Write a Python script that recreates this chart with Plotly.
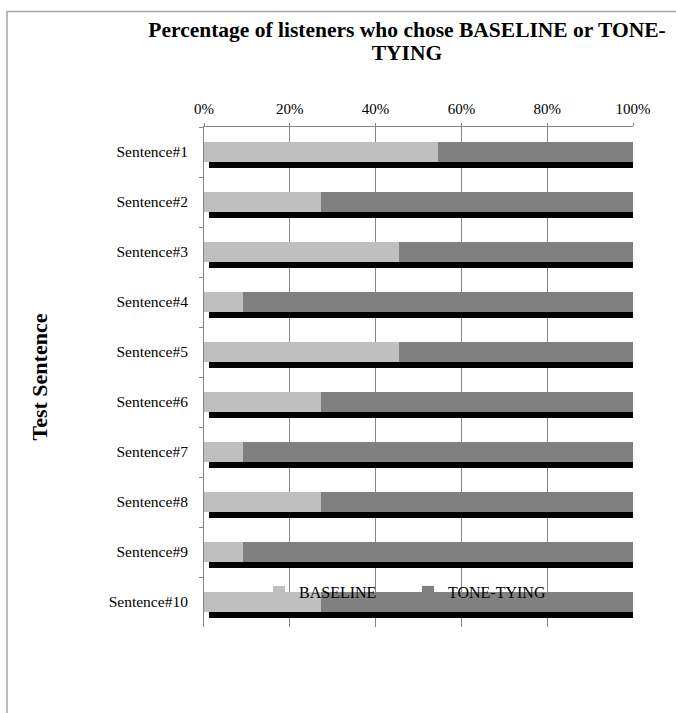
import plotly.graph_objects as go

# ---- data ----
categories = ["Sentence#1", "Sentence#2", "Sentence#3", "Sentence#4", "Sentence#5",
              "Sentence#6", "Sentence#7", "Sentence#8", "Sentence#9", "Sentence#10"]
baseline = [54.5, 27.3, 45.5, 9.1, 45.5, 27.3, 9.1, 27.3, 9.1, 27.3]
tone_tying = [45.5, 72.7, 54.5, 90.9, 54.5, 72.7, 90.9, 72.7, 90.9, 72.7]
x_tick_vals = [0, 20, 40, 60, 80, 100]
x_tick_text = ["0%", "20%", "40%", "60%", "80%", "100%"]

W, H = 676, 713
FONT = "Liberation Serif, Times New Roman, serif"

# plot area in pixels
left, right, top, bottom = 204, 633, 127, 627
xdom = [left / W, right / W]
ydom = [1 - bottom / H, 1 - top / H]

fig = go.Figure()

# shadow bars (main axes, drawn beneath)
for vals in (baseline, tone_tying):
    fig.add_trace(go.Bar(
        y=categories, x=vals, orientation="h",
        marker=dict(color="#000000", line=dict(width=0)),
        showlegend=False, hoverinfo="skip",
        xaxis="x", yaxis="y",
    ))

# visible bars (overlay axes)
fig.add_trace(go.Bar(
    y=categories, x=baseline, orientation="h", name="BASELINE",
    marker=dict(color="#BFBFBF", line=dict(width=0)),
    xaxis="x2", yaxis="y2",
))
fig.add_trace(go.Bar(
    y=categories, x=tone_tying, orientation="h", name="TONE-TYING",
    marker=dict(color="#808080", line=dict(width=0)),
    xaxis="x2", yaxis="y2",
))

title_text = ('<b><span style="font-size:21.5px">Percentage of listeners who chose '
              'BASELINE or TONE-<br>TYING</span></b>')

fig.update_layout(
    width=W, height=H,
    margin=dict(l=0, r=0, t=0, b=0),
    paper_bgcolor="white", plot_bgcolor="rgba(0,0,0,0)",
    barmode="stack", bargap=0.6,
    font=dict(family=FONT, size=15, color="#000000"),
    title=dict(
        text=title_text,
        x=407 / W, xanchor="center", xref="paper",
        y=1 - 37 / H, yanchor="top", yref="container",
        font=dict(family=FONT, size=17.5, color="#000000"),
    ),
    xaxis=dict(domain=xdom, range=[-1.174, 99.53], visible=False, fixedrange=True),
    yaxis=dict(domain=ydom, type="category", categoryarray=categories,
               categoryorder="array", range=[9.39, -0.61], visible=False),
    xaxis2=dict(
        domain=xdom, overlaying="x", anchor="y2", side="top",
        range=[0, 100], tickvals=x_tick_vals, ticktext=x_tick_text,
        showgrid=True, gridcolor="#868686", gridwidth=1,
        showline=True, linecolor="#868686", linewidth=1,
        ticks="outside", ticklen=3, tickcolor="#868686",
        tickfont=dict(family=FONT, size=15), zeroline=False,
        automargin=False, ticklabelstandoff=3,
    ),
    yaxis2=dict(
        domain=ydom, overlaying="y", anchor="x2", side="left",
        type="category", categoryarray=categories, categoryorder="array",
        range=[9.5, -0.5],
        showgrid=False, showline=True, linecolor="#868686", linewidth=1,
        ticks="outside", ticklen=4, tickcolor="#868686", tickson="boundaries",
        tickfont=dict(family=FONT, size=15.5), automargin=False,
        ticklabelstandoff=12,
        title=dict(text="<b>Test Sentence</b>", standoff=54,
                   font=dict(family=FONT, size=22)),
    ),
    legend=dict(
        orientation="h", traceorder="normal",
        x=259 / W, xanchor="left", y=1 - 592 / H, yanchor="middle",
        bgcolor="rgba(0,0,0,0)", borderwidth=0,
        font=dict(family=FONT, size=16), entrywidth=104,
        itemclick=False,
    ),
    shapes=[dict(type="rect", xref="paper", yref="paper",
                 x0=7 / W, y0=-0.2, x1=1.2, y1=1 - 11.5 / H,
                 line=dict(color="#A6A6A6", width=1.5), fillcolor="rgba(0,0,0,0)",
                 layer="below")],
)

fig.write_html(
    "out.html",
    config={"displayModeBar": False},
    post_script="document.body.style.margin='0';document.body.style.overflow='hidden';",
)
